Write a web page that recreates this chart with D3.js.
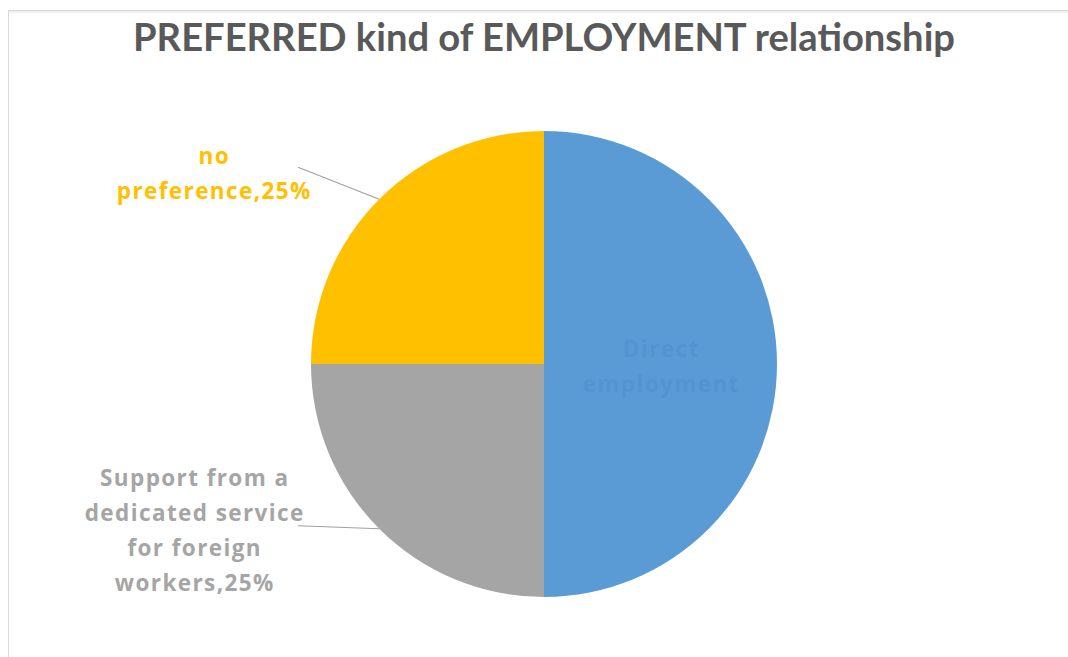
<!DOCTYPE html>
<html>
<head>
<meta charset="utf-8">
<script src="https://cdn.jsdelivr.net/npm/d3@7"></script>
<style>
  html, body { margin: 0; padding: 0; background: #ffffff; }
  svg { display: block; }
</style>
</head>
<body>
<svg id="chart" width="1068" height="657"></svg>
<script>
// Survey answers: preferred kind of employment relationship
const categories = [
  "Direct employment",
  "Support from a dedicated service for foreign workers",
  "no preference"
];
const shares = [50, 25, 25];
// Label text, split into lines the way the chart wraps them
const labelLines = [
  ["Direct", "employment"],
  ["Support from a", "dedicated service", "for foreign", "workers,25%"],
  ["no", "preference,25%"]
];
const sliceColors = ["#5B9BD5", "#A5A5A5", "#FFC000"];
const labelColors = ["#5394d0", "#A5A5A5", "#FFC000"];

const W = 1068, H = 657;
const cx = 544, cy = 364, radius = 233;
const lineH = 35;

const svg = d3.select("#chart");

// chart frame
svg.append("rect")
  .attr("x", 8.5).attr("y", 10.5)
  .attr("width", W + 20).attr("height", H + 20)
  .attr("fill", "#ffffff")
  .attr("stroke", "#d9d9d9").attr("stroke-width", 1);
svg.append("line")
  .attr("x1", 9).attr("x2", W).attr("y1", 12).attr("y2", 12)
  .attr("stroke", "#f0f0f0").attr("stroke-width", 2);

// title
svg.append("text")
  .attr("x", cx).attr("y", 51)
  .attr("text-anchor", "middle")
  .attr("font-family", "Lato, 'Open Sans', sans-serif")
  .attr("font-weight", "bold")
  .attr("font-size", 39)
  .attr("textLength", 822)
  .attr("lengthAdjust", "spacingAndGlyphs")
  .attr("fill", "#595959")
  .text("PREFERRED kind of EMPLOYMENT relationship");

const data = categories.map((c, i) => ({ name: c, value: shares[i], i }));

const pie = d3.pie().value(d => d.value).sort(null)
  .startAngle(0).endAngle(2 * Math.PI);
const arcs = pie(data);
const arc = d3.arc().innerRadius(0).outerRadius(radius);

const g = svg.append("g").attr("transform", `translate(${cx},${cy})`);

g.selectAll("path.slice")
  .data(arcs)
  .join("path")
  .attr("class", "slice")
  .attr("d", arc)
  .attr("fill", d => sliceColors[d.data.i]);

// where each label sits: inside the slice, or outside with a leader line
const labelPlacement = [
  { inside: true, r: 0.5, dy: 2 },
  { inside: false, leadX: -246, leadDy: -3, boxRight: -240, dy: 5 },
  { inside: false, leadX: -246, leadDy: -32, boxRight: -233, dy: 6 }
];

const fontFamily = "'Open Sans', Lato, sans-serif";
const letterSpacing = 1.4;

arcs.forEach(a => {
  const i = a.data.i;
  const p = labelPlacement[i];
  const mid = (a.startAngle + a.endAngle) / 2;
  const ex = Math.sin(mid) * radius, ey = -Math.cos(mid) * radius;
  const lines = labelLines[i];

  const t = g.append("text")
    .attr("font-family", fontFamily)
    .attr("font-weight", "bold")
    .attr("font-size", 22.5)
    .attr("letter-spacing", letterSpacing)
    .attr("fill", labelColors[i])
    .attr("text-anchor", "middle");

  let ax, ay;
  if (p.inside) {
    ax = Math.sin(mid) * radius * p.r;
    ay = -Math.cos(mid) * radius * p.r + p.dy;
  } else {
    const lx = p.leadX, ly = ey + p.leadDy;
    g.append("line")
      .attr("x1", ex).attr("y1", ey)
      .attr("x2", lx).attr("y2", ly)
      .attr("stroke", "#a0a0a0").attr("stroke-width", 1.2);
    ay = ly + p.dy;
    ax = null;
  }

  const spans = lines.map((ln, k) => t.append("tspan").text(ln));
  const maxW = d3.max(spans, s => s.node().getComputedTextLength());
  if (ax === null) ax = p.boxRight - maxW / 2;
  const top = ay - (lines.length * lineH) / 2;
  spans.forEach((s, k) => {
    s.attr("x", ax + letterSpacing / 2).attr("y", top + k * lineH + lineH * 0.5 + 8);
  });
});
</script>
</body>
</html>
